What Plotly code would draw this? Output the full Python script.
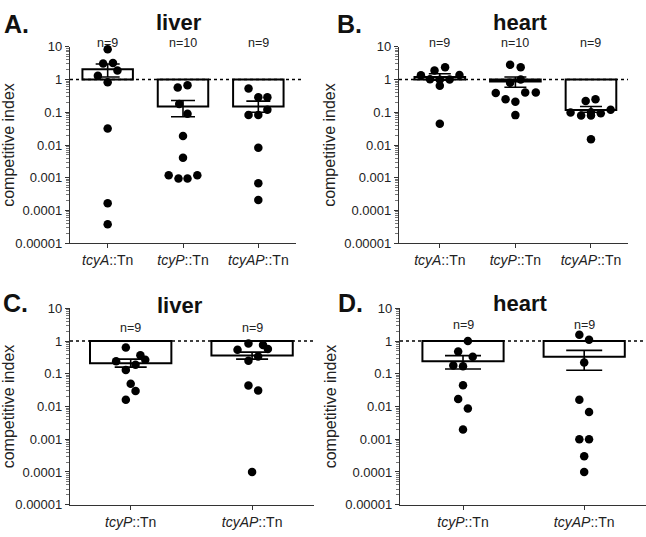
import plotly.graph_objects as go

# ---------------- data ----------------
tick_vals = [1e-5, 1e-4, 1e-3, 1e-2, 1e-1, 1, 10]
tick_text = ["0.00001", "0.0001", "0.001", "0.01", "0.1", "1", "10"]

# Panel A - liver
a_cats = ["<i>tcyA</i>::Tn", "<i>tcyP</i>::Tn", "<i>tcyAP</i>::Tn"]
a_n = ["n=9", "n=10", "n=9"]
a_tcyA = [8.5, 3.1, 3.2, 1.3, 1.9, 0.83, 0.032, 0.000165, 0.000038]
a_tcyA_off = [0, -0.06, 0.07, -0.13, 0.13, 0, 0, 0, 0]
a_tcyP = [0.57, 0.67, 0.18, 0.091, 0.019, 0.0041, 0.0012, 0.00095, 0.00095, 0.0012]
a_tcyP_off = [-0.07, 0.06, -0.05, 0.06, 0, 0, -0.19, -0.06, 0.06, 0.19]
a_tcyAP = [0.53, 0.29, 0.29, 0.083, 0.083, 0.12, 0.0082, 0.00068, 0.00021]
a_tcyAP_off = [-0.13, 0, 0.12, -0.13, 0, 0.12, 0, 0, 0]
a_mean = [2.05, 0.15, 0.15]
a_err_hi = [3.0, 0.23, 0.22]
a_err_lo = [1.2, 0.073, 0.10]

# Panel B - heart
b_cats = ["<i>tcyA</i>::Tn", "<i>tcyP</i>::Tn", "<i>tcyAP</i>::Tn"]
b_n = ["n=9", "n=10", "n=9"]
b_tcyA = [1.35, 1.9, 2.4, 1.38, 1.02, 0.98, 1.0, 0.65, 0.045]
b_tcyA_off = [-0.25, -0.07, 0.07, 0.26, -0.13, 0, 0.13, 0, 0]
b_tcyP = [2.85, 2.4, 1.0, 0.8, 0.39, 0.25, 0.21, 0.4, 0.4, 0.082]
b_tcyP_off = [-0.07, 0.07, 0.07, -0.07, -0.26, -0.13, 0, 0.13, 0.27, 0]
b_tcyAP = [0.22, 0.25, 0.098, 0.08, 0.08, 0.094, 0.12, 0.015, 0.1]
b_tcyAP_off = [-0.07, 0.06, -0.27, -0.13, 0, 0.13, 0.26, 0, 0]
b_mean = [1.2, 0.87, 0.117]
b_err_hi = [1.5, 1.2, 0.15]
b_err_lo = [0.95, 0.58, 0.10]

# Panel C - liver
c_cats = ["<i>tcyP</i>::Tn", "<i>tcyAP</i>::Tn"]
c_n = ["n=9", "n=9"]
c_tcyP = [0.64, 0.37, 0.27, 0.24, 0.19, 0.13, 0.05, 0.03, 0.016]
c_tcyP_off = [-0.04, 0.08, 0.12, -0.12, 0.04, -0.04, 0, 0.04, -0.04]
c_tcyAP = [0.84, 0.76, 0.54, 0.57, 0.34, 0.25, 0.044, 0.031, 0.0001]
c_tcyAP_off = [-0.03, 0.09, -0.12, 0.13, 0.05, -0.03, -0.03, 0.05, 0]
c_mean = [0.21, 0.36]
c_err_hi = [0.28, 0.46]
c_err_lo = [0.16, 0.28]

# Panel D - heart
d_cats = ["<i>tcyP</i>::Tn", "<i>tcyAP</i>::Tn"]
d_n = ["n=9", "n=9"]
d_tcyP = [1.0, 0.48, 0.33, 0.18, 0.17, 0.045, 0.017, 0.0087, 0.002]
d_tcyP_off = [0.04, -0.04, 0.08, -0.08, 0, 0, -0.04, 0.04, 0]
d_tcyAP = [1.55, 1.1, 0.22, 0.016, 0.0068, 0.001, 0.001, 0.0003, 0.0001]
d_tcyAP_off = [-0.04, 0.04, 0, -0.04, 0.04, -0.04, 0.04, 0, 0]
d_mean = [0.24, 0.33]
d_err_hi = [0.36, 0.52]
d_err_lo = [0.14, 0.128]

# ---------------- layout helpers ----------------
W, H = 646, 537
FONT = "Liberation Sans, Arial, sans-serif"

minor_vals = [m * 10.0 ** e for e in range(-5, 1) for m in range(2, 10)]

fig = go.Figure()


def px_x(p):
    return p / W


def px_y(p):
    return 1 - p / H


panels = [
    dict(name="A", title="liver", cats=a_cats, n=a_n,
         groups=[(a_tcyA, a_tcyA_off), (a_tcyP, a_tcyP_off), (a_tcyAP, a_tcyAP_off)],
         mean=a_mean, hi=a_err_hi, lo=a_err_lo,
         xd=(70, 296), yd=(41, 243), xr=(-0.5, 2.5), cap=12, npy=37,
         lab=(3, 18), tit=(179, 16), dot_end=1.03),
    dict(name="B", title="heart", cats=b_cats, n=b_n,
         groups=[(b_tcyA, b_tcyA_off), (b_tcyP, b_tcyP_off), (b_tcyAP, b_tcyAP_off)],
         mean=b_mean, hi=b_err_hi, lo=b_err_lo,
         xd=(399, 628), yd=(41, 243), xr=(-0.54, 2.49), cap=11, npy=37,
         lab=(336, 18), tit=(520, 16), dot_end=1.0),
    dict(name="C", title="liver", cats=c_cats, n=c_n,
         groups=[(c_tcyP, c_tcyP_off), (c_tcyAP, c_tcyAP_off)],
         mean=c_mean, hi=c_err_hi, lo=c_err_lo,
         xd=(70, 314), yd=(310, 512), xr=(-0.5, 1.51), cap=16, npy=330,
         lab=(2, 304), tit=(180, 307), dot_end=1.0),
    dict(name="D", title="heart", cats=d_cats, n=d_n,
         groups=[(d_tcyP, d_tcyP_off), (d_tcyAP, d_tcyAP_off)],
         mean=d_mean, hi=d_err_hi, lo=d_err_lo,
         xd=(400, 646), yd=(310, 512), xr=(-0.52, 1.51), cap=18, npy=327,
         lab=(337, 304), tit=(520, 305), dot_end=1.0),
]

annotations = []
shapes = []

for i, p in enumerate(panels):
    k = "" if i == 0 else str(i + 1)
    xa, ya = "x" + k, "y" + k
    ncat = len(p["cats"])
    idx = list(range(ncat))

    # bars from baseline 1 to mean
    fig.add_trace(go.Bar(
        x=idx, y=[m - 1 for m in p["mean"]], base=[1] * ncat, width=0.67,
        marker=dict(color="white", line=dict(color="black", width=2)),
        xaxis=xa, yaxis=ya, showlegend=False, hoverinfo="skip"))

    # individual points
    for ci, (vals, offs) in enumerate(p["groups"]):
        fig.add_trace(go.Scatter(
            x=[ci + o for o in offs], y=vals, mode="markers",
            marker=dict(color="black", size=8.5, line=dict(width=0)),
            xaxis=xa, yaxis=ya, showlegend=False, cliponaxis=False))

    # error bars (mean +/- SEM)
    fig.add_trace(go.Scatter(
        x=idx, y=p["mean"], mode="markers",
        marker=dict(color="rgba(0,0,0,0)", size=1),
        error_y=dict(type="data", symmetric=False,
                     array=[h - m for h, m in zip(p["hi"], p["mean"])],
                     arrayminus=[m - l for m, l in zip(p["mean"], p["lo"])],
                     color="black", thickness=1.6, width=p["cap"]),
        xaxis=xa, yaxis=ya, showlegend=False, hoverinfo="skip"))

    x0, x1 = p["xd"]
    yt, yb = p["yd"]
    fig.layout["xaxis" + k] = dict(
        domain=[px_x(x0), px_x(x1)], range=list(p["xr"]), anchor=ya,
        tickmode="array", tickvals=idx, ticktext=p["cats"],
        showline=True, linecolor="#333", linewidth=1.2,
        ticks="outside", ticklen=4, tickcolor="#333", tickwidth=1,
        showgrid=False, zeroline=False,
        tickfont=dict(family=FONT, size=14, color="#222"))
    fig.layout["yaxis" + k] = dict(
        domain=[px_y(yb), px_y(yt)], type="log", range=[-5, 1], anchor=xa,
        tickmode="array", tickvals=tick_vals, ticktext=tick_text,
        showline=True, linecolor="#333", linewidth=1.2,
        ticks="outside", ticklen=4, tickcolor="#333", tickwidth=1,
        minor=dict(ticks="outside", ticklen=3, tickcolor="#777", tickwidth=1,
                   tickmode="array", tickvals=minor_vals, showgrid=False),
        showgrid=False, zeroline=False,
        title=dict(text="competitive index", standoff=4,
                   font=dict(family=FONT, size=16, color="#222")),
        tickfont=dict(family=FONT, size=13, color="#222"))

    # dotted reference line at 1
    shapes.append(dict(type="line", xref=xa + " domain", yref=ya,
                       x0=0, x1=p["dot_end"], y0=1, y1=1,
                       line=dict(color="black", width=1.5, dash="dot")))

    # n labels
    for ci, txt in enumerate(p["n"]):
        annotations.append(dict(
            x=ci, xref=xa, y=px_y(p["npy"]), yref="paper", text=txt,
            xanchor="center", yanchor="middle", borderpad=0,
            showarrow=False, font=dict(family=FONT, size=12.5, color="#222")))

    # panel letter
    annotations.append(dict(
        x=px_x(p["lab"][0]), y=px_y(p["lab"][1]), xref="paper", yref="paper",
        xanchor="left", yanchor="middle", text="<b>" + p["name"] + ".</b>",
        borderpad=0, showarrow=False, font=dict(family=FONT, size=25, color="#111")))
    # panel title
    annotations.append(dict(
        x=px_x(p["tit"][0]), y=px_y(p["tit"][1]), xref="paper", yref="paper",
        xanchor="center", yanchor="middle", text="<b>" + p["title"] + "</b>",
        borderpad=0, showarrow=False, font=dict(family=FONT, size=22, color="#111")))

fig.update_layout(
    width=W, height=H, margin=dict(l=0, r=0, t=0, b=0),
    paper_bgcolor="white", plot_bgcolor="white",
    barmode="overlay", annotations=annotations, shapes=shapes,
    font=dict(family=FONT, color="#222"))

fig.write_html("out.html", config={"displayModeBar": False},
               post_script="document.body.style.margin='0';document.body.style.overflow='hidden';")
